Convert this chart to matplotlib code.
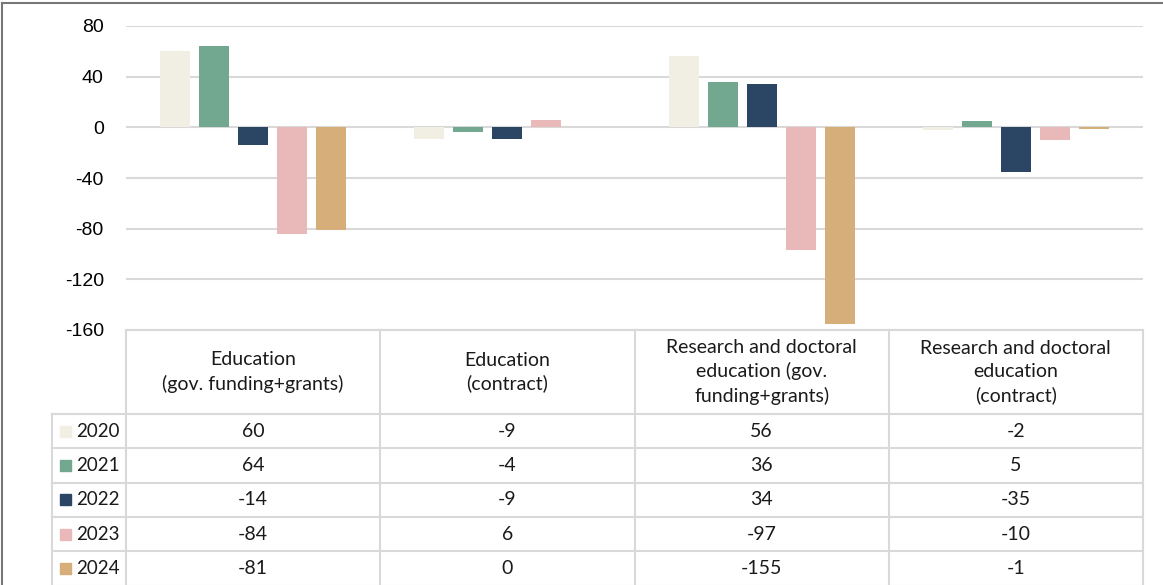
import matplotlib.pyplot as plt
from matplotlib.patches import Rectangle
import numpy as np

categories = ['Education\n(gov. funding+grants)', 'Education\n(contract)',
              'Research and doctoral\neducation (gov.\nfunding+grants)',
              'Research and doctoral\neducation\n(contract)']
years = ['2020', '2021', '2022', '2023', '2024']
values = {
    '2020': [60, -9, 56, -2],
    '2021': [64, -4, 36, 5],
    '2022': [-14, -9, 34, -35],
    '2023': [-84, 6, -97, -10],
    '2024': [-81, 0, -155, -1],
}
colors = ['#f1efe4', '#72a88f', '#2b4665', '#e9b8b9', '#d5ae7a']
yticks = [80, 40, 0, -40, -80, -120, -160]

W, H = 1163, 585
fig = plt.figure(figsize=(W / 100, H / 100), dpi=100)

# plot area in pixels
x0, x1 = 126, 1143
ytop, ybot = 26, 330
ax = fig.add_axes([x0 / W, 1 - ybot / H, (x1 - x0) / W, (ybot - ytop) / H])
x = np.arange(len(categories))
step = 0.1535
for i, yr in enumerate(years):
    ax.bar(x + (i - 2) * step, values[yr], width=0.118, color=colors[i], zorder=3)
ax.set_xlim(-0.5, len(categories) - 0.5)
ax.set_ylim(-160, 80)
ax.set_yticks(yticks)
ax.set_yticklabels([str(t) for t in yticks], fontsize=14, family='Liberation Sans')
ax.tick_params(axis='y', length=0, pad=16)
ax.set_xticks([])
ax.grid(axis='y', color='#d9d9d9', lw=1.5, zorder=0)
for s in ax.spines.values():
    s.set_visible(False)

# table + frame in pixel coords
tb = fig.add_axes([0, 0, 1, 1], facecolor='none')
tb.set_xlim(0, W)
tb.set_ylim(H, 0)
tb.axis('off')
gc = '#d9d9d9'
fs = 14
row_top = 414
row_h = 34.3
col_w = (x1 - x0) / len(categories)
lab_x = 52
# header box
tb.plot([x0, x1], [ybot, ybot], color=gc, lw=1.5)
for j in range(len(categories) + 1):
    tb.plot([x0 + j * col_w] * 2, [ybot, H], color=gc, lw=1.5)
tb.plot([lab_x, lab_x], [row_top, H], color=gc, lw=1.5)
for r in range(len(years) + 1):
    yy = row_top + r * row_h
    tb.plot([lab_x, x1], [yy, yy], color=gc, lw=1.5)
for j, c in enumerate(categories):
    tb.text(x0 + (j + 0.5) * col_w, (ybot + row_top) / 2, c, ha='center', va='center',
            fontsize=fs, family='Lato', linespacing=1.4, color='#1a1a1a')
for r, yr in enumerate(years):
    yc = row_top + (r + 0.5) * row_h
    tb.add_patch(Rectangle((60, yc - 5.5), 11, 11, color=colors[r]))
    tb.text(76, yc, yr, ha='left', va='center', fontsize=fs - 0.5, family='Lato', color='#1a1a1a')
    for j in range(len(categories)):
        tb.text(x0 + (j + 0.5) * col_w, yc, str(values[yr][j]), ha='center', va='center',
                fontsize=fs, family='Lato', color='#1a1a1a')

# outer frame (top and left)
tb.plot([2, W], [3, 3], color='#777777', lw=1.5)
tb.plot([2, 2], [3, H], color='#777777', lw=1.5)

fig.savefig('out.png', dpi=100)
